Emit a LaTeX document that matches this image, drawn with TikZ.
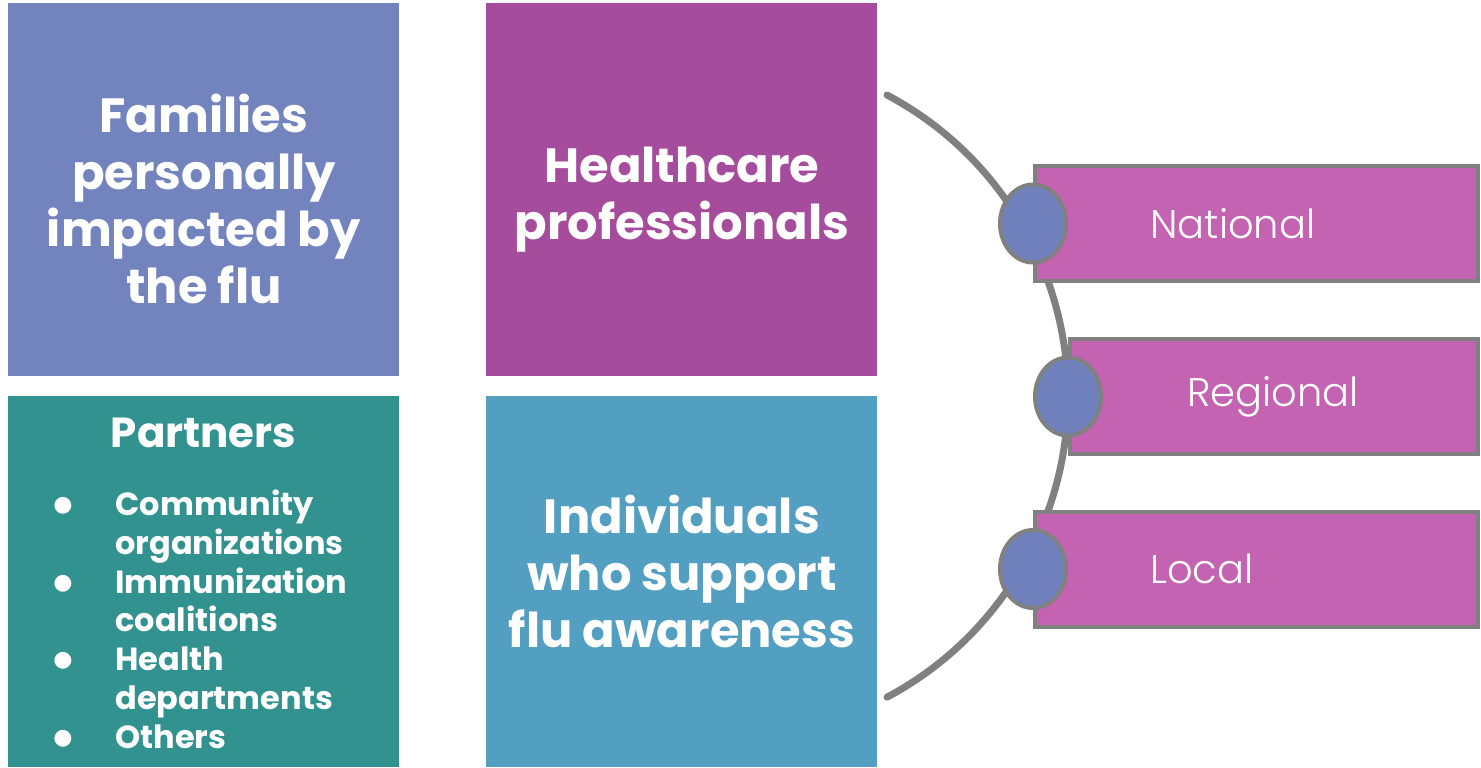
\documentclass[tikz,border=0pt]{standalone}
\usepackage{fontspec}
\setmainfont{Poppins}
\newfontfamily\lightfont{Poppins Light}
\newfontfamily\symfont{DejaVu Sans}
\usetikzlibrary{positioning,shapes.geometric}
\definecolor{famblue}{HTML}{7383BD}
\definecolor{hcpurple}{HTML}{A54C9C}
\definecolor{partteal}{HTML}{32928F}
\definecolor{indblue}{HTML}{529FC1}
\definecolor{tabpink}{HTML}{C463B1}
\definecolor{dotblue}{HTML}{7080BD}
\definecolor{linegray}{HTML}{808080}
\newcommand{\partbullet}{\raisebox{2pt}{\symfont\fontsize{11}{11}\selectfont ●}}

\begin{document}
\begin{tikzpicture}[x=0.5pt,y=-0.5pt,
  block/.style={anchor=north west,inner sep=0pt,minimum width=195.5pt,minimum height=186.5pt},
  blocktext/.style={inner sep=0pt,text=white,align=center,font=\fontsize{24}{28.5}\selectfont\bfseries},
  tabbox/.style={anchor=west,draw=linegray,line width=2pt,fill=tabpink,inner sep=0pt,minimum height=57.5pt},
  tabtext/.style={inner sep=0pt,text=white,font=\fontsize{20}{24}\selectfont\lightfont},
  dot/.style={ellipse,draw=linegray,line width=2pt,fill=dotblue,inner sep=0pt,minimum width=33pt,minimum height=39pt},
  arcline/.style={draw=linegray,line width=3.5pt,line cap=round}]
\useasboundingbox (0,0) rectangle (1481,767);

\node[block,fill=famblue] (families) at (8,3) {};
\node[block,fill=hcpurple] (healthcare) at (486,3) {};
\node[block,fill=partteal,minimum height=185.5pt] (partners) at (8,396) {};
\node[block,fill=indblue,minimum height=185.5pt] (individuals) at (486,396) {};

\node[blocktext] (famtext) at ([yshift=-4.5pt]families.center) {Families\\personally\\impacted by\\the flu};
\node[blocktext] (hctext) at ([yshift=-5pt]healthcare.center) {Healthcare\\professionals};
\node[blocktext] (indtext) at ([yshift=5pt]individuals.center) {Individuals\\who support\\flu awareness};

\node[inner sep=0pt,text=white,font=\fontsize{21}{25}\selectfont\bfseries] (parthead) at (203.5,433) {Partners};
\node[anchor=north west,inner sep=0pt,text=white,font=\fontsize{16}{19.4}\selectfont\bfseries] (partlist) at (53,488) {%
  \begin{tabular}{@{}p{31pt}@{}l@{}}
  \partbullet & Community\\
              & organizations\\
  \partbullet & Immunization\\
              & coalitions\\
  \partbullet & Health\\
              & departments\\
  \partbullet & Others
  \end{tabular}};

\coordinate (arctop) at (887,95);
\draw[arcline] (arctop) arc[start angle=-62,end angle=62,radius=341] coordinate (arcbottom);

\node[tabbox,minimum width=221.5pt] (national) at (1033,223.5) {};
\node[tabbox,minimum width=204pt] (regional) at (1068,396.5) {};
\node[tabbox,minimum width=221.5pt] (local) at (1033,569) {};

\node[dot] (natdot) at (national.west) {};
\node[dot] (regdot) at (regional.west) {};
\node[dot] (locdot) at (local.west) {};

\node[tabtext,anchor=west,right=58.5pt of natdot.center] (nattext) {National};
\node[tabtext,anchor=west,right=59.5pt of regdot.center] (regtext) {Regional};
\node[tabtext,anchor=west,right=58.5pt of locdot.center] (loctext) {Local};
\end{tikzpicture}
\end{document}
